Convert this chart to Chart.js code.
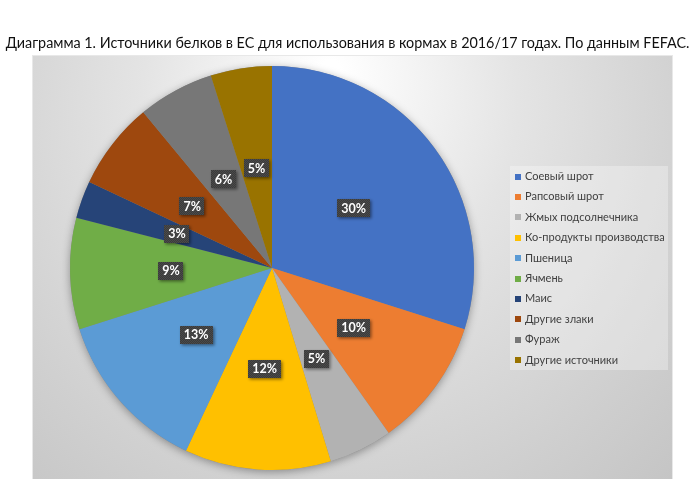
<!DOCTYPE html>
<html><head><meta charset="utf-8">
<script src="https://cdn.jsdelivr.net/npm/chart.js@4"></script>
<style>html,body{margin:0;padding:0;background:#fff}canvas{display:block}</style>
</head><body>
<canvas id="c" width="695" height="479"></canvas>
<script>
const titleText = 'Диаграмма 1. Источники белков в ЕС для использования в кормах в 2016/17 годах. По данным FEFAC.';
const categories = ['Соевый шрот','Рапсовый шрот','Жмых подсолнечника','Ко-продукты производства','Пшеница','Ячмень','Маис','Другие злаки','Фураж','Другие источники'];
const shares = [29.9, 10.3, 5.1, 11.7, 13.1, 8.9, 3.0, 7.0, 6.1, 4.9];
const colors = ['#4472C4','#ED7D31','#B2B2B2','#FFC000','#5B9BD5','#70AD47','#264478','#9E480E','#777777','#997300'];

const BOX = {l: 32, t: 55, r: 673, b: 479};
const LEG = {l: 510, t: 166, r: 668, b: 370, x: 515, tx: 525, y0: 176.5, dy: 20.4};
const TITLE_WIDTH = 684;

function makePattern(ctx){
  const p = document.createElement('canvas'); p.width = 2; p.height = 2;
  const c = p.getContext('2d');
  c.fillStyle = '#3b3b3b'; c.fillRect(0,0,2,2);
  c.fillStyle = '#4a4a4a'; c.fillRect(0,0,1,1); c.fillRect(1,1,1,1);
  return ctx.createPattern(p, 'repeat');
}

const bgPlugin = {
  id: 'bg',
  beforeDraw(chart){
    const ctx = chart.ctx;
    ctx.save();
    ctx.fillStyle = '#fff'; ctx.fillRect(0,0,chart.width,chart.height);
    const g = ctx.createRadialGradient(330, 70, 10, 330, 160, 520);
    g.addColorStop(0, '#ffffff');
    g.addColorStop(0.35, '#e4e4e4');
    g.addColorStop(0.7, '#d0d0d0');
    g.addColorStop(1, '#c0c0c0');
    ctx.fillStyle = g;
    ctx.fillRect(BOX.l, BOX.t, BOX.r-BOX.l, BOX.b-BOX.t);
    ctx.strokeStyle = '#e8e8e8'; ctx.lineWidth = 1;
    ctx.strokeRect(BOX.l+0.5, BOX.t+0.5, BOX.r-BOX.l-1, BOX.b-BOX.t);
    ctx.restore();
  }
};

const shadowPlugin = {
  id: 'pieShadow',
  beforeDatasetsDraw(chart){
    const a = chart.getDatasetMeta(0).data[0];
    if(!a) return;
    const ctx = chart.ctx;
    ctx.save();
    ctx.shadowColor = 'rgba(0,0,0,0.35)';
    ctx.shadowBlur = 9; ctx.shadowOffsetY = 2;
    ctx.fillStyle = '#888';
    ctx.beginPath(); ctx.arc(a.x, a.y, a.outerRadius, 0, Math.PI*2); ctx.fill();
    ctx.restore();
  }
};

const labelPlugin = {
  id: 'pctLabels',
  afterDatasetsDraw(chart){
    const ctx = chart.ctx;
    const meta = chart.getDatasetMeta(0);
    const data = chart.data.datasets[0].data;
    const total = data.reduce((s,v)=>s+v,0);
    const pat = makePattern(ctx);
    ctx.save();
    ctx.font = 'bold 12.5px Lato';
    ctx.textAlign = 'center'; ctx.textBaseline = 'middle';
    meta.data.forEach((arc,i)=>{
      const p = arc.getProps(['x','y','startAngle','endAngle','outerRadius'], true);
      const mid = (p.startAngle + p.endAngle)/2;
      const r = p.outerRadius*0.5;
      const cx = p.x + Math.cos(mid)*r, cy = p.y + Math.sin(mid)*r;
      const txt = Math.round(data[i]/total*100) + '%';
      const w = ctx.measureText(txt).width + 8, h = 18;
      ctx.save();
      ctx.shadowColor = 'rgba(0,0,0,0.45)'; ctx.shadowBlur = 3; ctx.shadowOffsetX = 1.5; ctx.shadowOffsetY = 1.5;
      ctx.fillStyle = pat;
      ctx.fillRect(Math.round(cx - w/2), Math.round(cy - h/2), Math.round(w), h);
      ctx.restore();
      ctx.fillStyle = '#ffffff';
      ctx.fillText(txt, cx, cy + 0.5);
    });
    ctx.restore();
  }
};

const textPlugin = {
  id: 'texts',
  afterDraw(chart){
    const ctx = chart.ctx;
    ctx.save();
    ctx.fillStyle = '#111';
    ctx.font = '15px Lato';
    const w = ctx.measureText(titleText).width;
    const size = Math.min(16, 15 * TITLE_WIDTH / w);
    ctx.font = size.toFixed(2) + 'px Lato';
    ctx.textAlign = 'center'; ctx.textBaseline = 'alphabetic';
    ctx.fillText(titleText, 347.5, 47.5);
    // legend
    ctx.fillStyle = 'rgba(255,255,255,0.3)';
    ctx.fillRect(LEG.l, LEG.t, LEG.r-LEG.l, LEG.b-LEG.t);
    ctx.font = '11px Lato';
    ctx.textAlign = 'left'; ctx.textBaseline = 'middle';
    chart.data.labels.forEach((lab,i)=>{
      const y = LEG.y0 + i*LEG.dy;
      ctx.fillStyle = chart.data.datasets[0].backgroundColor[i];
      ctx.fillRect(LEG.x, Math.round(y-3), 6, 6);
      ctx.fillStyle = '#404040';
      ctx.fillText(lab, LEG.tx, y);
    });
    ctx.restore();
  }
};

new Chart(document.getElementById('c'), {
  type: 'pie',
  data: {
    labels: categories,
    datasets: [{ data: shares, backgroundColor: colors, borderWidth: 0, hoverOffset: 0 }]
  },
  options: {
    responsive: false,
    devicePixelRatio: 1,
    animation: false,
    layout: { padding: { top: 66, bottom: 9, left: 70, right: 221 } },
    plugins: { legend: { display: false }, title: { display: false }, tooltip: { enabled: false } }
  },
  plugins: [bgPlugin, shadowPlugin, labelPlugin, textPlugin]
});
</script>
</body></html>
